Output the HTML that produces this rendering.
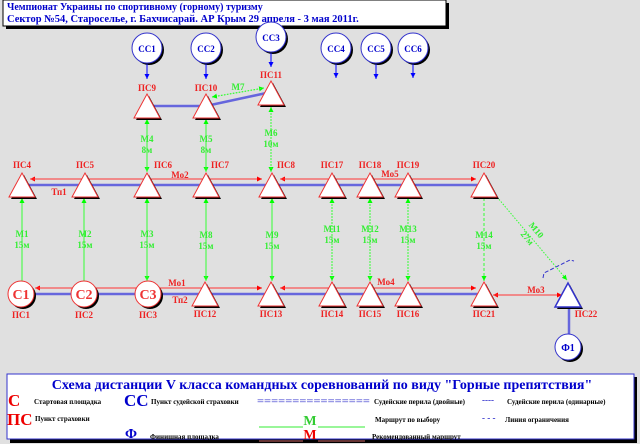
<!DOCTYPE html>
<html><head><meta charset="utf-8"><style>
body{margin:0;background:#e0e0e0}
svg{display:block}
text{font-family:"Liberation Serif",serif;font-weight:bold}
</style></head><body>
<svg width="640" height="444" viewBox="0 0 640 444" xmlns="http://www.w3.org/2000/svg">
<defs>
<marker id="ar" viewBox="0 0 10 10" refX="10" refY="5" markerWidth="5" markerHeight="5" orient="auto"><path d="M0,0L10,5L0,10z" fill="#f00"/></marker>
<marker id="ag" viewBox="0 0 10 10" refX="10" refY="5" markerWidth="5" markerHeight="5" orient="auto"><path d="M0,0L10,5L0,10z" fill="#0f0"/></marker>
<marker id="ab" viewBox="0 0 10 10" refX="10" refY="5" markerWidth="5" markerHeight="5" orient="auto"><path d="M0,0L10,5L0,10z" fill="#00f"/></marker>
<g id="tri"><path d="M2,2L15,26L-11,26z" fill="#000"/><path d="M0,0L13,24L-13,24z" fill="#fff" stroke="#e33" stroke-width="1"/></g>
<g id="trib"><path d="M2,2L15,26L-11,26z" fill="#000"/><path d="M0,0L13,24L-13,24z" fill="#fff" stroke="#33c" stroke-width="1.5"/></g>
</defs>
<rect width="640" height="444" fill="#e0e0e0"/>
<rect x="6" y="3" width="443" height="26" fill="#000"/>
<rect x="3" y="0" width="443" height="26" fill="#fff" stroke="#000"/>
<text x="7" y="10" font-size="10" fill="#00c">Чемпионат Украины по спортивному (горному) туризму</text>
<text x="7" y="22" font-size="10.5" fill="#00c">Сектор №54, Староселье, г. Бахчисарай. АР Крым 29 апреля - 3 мая 2011г.</text>
<g font-size="9" fill="#00c" text-anchor="middle">
<g><circle cx="149" cy="50" r="15" fill="#000"/><circle cx="147" cy="48" r="15" fill="#fff" stroke="#33c"/><text x="147" y="52">СС1</text></g>
<g><circle cx="208" cy="50" r="15" fill="#000"/><circle cx="206" cy="48" r="15" fill="#fff" stroke="#33c"/><text x="206" y="52">СС2</text></g>
<g><circle cx="273" cy="39" r="15" fill="#000"/><circle cx="271" cy="37" r="15" fill="#fff" stroke="#33c"/><text x="271" y="41">СС3</text></g>
<g><circle cx="338" cy="50" r="15" fill="#000"/><circle cx="336" cy="48" r="15" fill="#fff" stroke="#33c"/><text x="336" y="52">СС4</text></g>
<g><circle cx="378" cy="50" r="15" fill="#000"/><circle cx="376" cy="48" r="15" fill="#fff" stroke="#33c"/><text x="376" y="52">СС5</text></g>
<g><circle cx="415" cy="50" r="15" fill="#000"/><circle cx="413" cy="48" r="15" fill="#fff" stroke="#33c"/><text x="413" y="52">СС6</text></g>
</g>
<g stroke="#00f" stroke-width="1">
<line x1="147" y1="64" x2="147" y2="79" marker-end="url(#ab)"/>
<line x1="206" y1="64" x2="206" y2="79" marker-end="url(#ab)"/>
<line x1="271" y1="53" x2="271" y2="67" marker-end="url(#ab)"/>
<line x1="336" y1="64" x2="336" y2="78" marker-end="url(#ab)"/>
<line x1="376" y1="64" x2="376" y2="79" marker-end="url(#ab)"/>
<line x1="413" y1="64" x2="413" y2="78" marker-end="url(#ab)"/>
</g>
<g stroke="#66d" stroke-width="2.5">
<line x1="147" y1="106" x2="206" y2="106"/>
<line x1="206" y1="106" x2="271" y2="92"/>
<line x1="22" y1="185" x2="484" y2="185"/>
<line x1="22" y1="294" x2="484" y2="294"/>
<line x1="569" y1="300" x2="569" y2="336"/>
</g>
<g stroke="#f33" stroke-width="1">
<line x1="262" y1="179" x2="30" y2="179" marker-end="url(#ar)"/>
<line x1="30" y1="179" x2="262" y2="179" marker-end="url(#ar)"/>
<line x1="476" y1="179" x2="280" y2="179" marker-end="url(#ar)"/>
<line x1="280" y1="179" x2="476" y2="179" marker-end="url(#ar)"/>
<line x1="262" y1="288" x2="35" y2="288" marker-end="url(#ar)"/>
<line x1="35" y1="288" x2="262" y2="288" marker-end="url(#ar)"/>
<line x1="476" y1="288" x2="280" y2="288" marker-end="url(#ar)"/>
<line x1="280" y1="288" x2="476" y2="288" marker-end="url(#ar)"/>
<line x1="562" y1="295" x2="493" y2="295" marker-end="url(#ar)"/>
<line x1="493" y1="295" x2="562" y2="295" marker-end="url(#ar)"/>
</g>
<g stroke="#3f3" stroke-width="1">
<line x1="22" y1="281" x2="22" y2="198" marker-end="url(#ag)"/>
<line x1="84" y1="281" x2="84" y2="198" marker-end="url(#ag)"/>
<line x1="147" y1="198" x2="147" y2="281" marker-end="url(#ag)"/>
<line x1="147" y1="281" x2="147" y2="198" marker-end="url(#ag)"/>
<line x1="206" y1="198" x2="206" y2="281" marker-end="url(#ag)"/>
<line x1="206" y1="281" x2="206" y2="198" marker-end="url(#ag)"/>
<line x1="272" y1="198" x2="272" y2="281" marker-end="url(#ag)"/>
<line x1="272" y1="281" x2="272" y2="198" marker-end="url(#ag)"/>
<line x1="147" y1="119" x2="147" y2="172" marker-end="url(#ag)"/>
<line x1="147" y1="172" x2="147" y2="119" marker-end="url(#ag)"/>
<line x1="206" y1="119" x2="206" y2="172" marker-end="url(#ag)"/>
<line x1="206" y1="172" x2="206" y2="119" marker-end="url(#ag)"/>
</g>
<g stroke="#3f3" stroke-width="1" stroke-dasharray="1.5,1.5">
<line x1="271" y1="107" x2="271" y2="172" marker-end="url(#ag)"/>
<line x1="271" y1="172" x2="271" y2="107" marker-end="url(#ag)"/>
<line x1="212" y1="97" x2="264" y2="88" marker-end="url(#ag)"/>
<line x1="264" y1="88" x2="212" y2="97" marker-end="url(#ag)"/>
<line x1="332" y1="198" x2="332" y2="281" marker-end="url(#ag)"/>
<line x1="332" y1="281" x2="332" y2="198" marker-end="url(#ag)"/>
<line x1="370" y1="198" x2="370" y2="281" marker-end="url(#ag)"/>
<line x1="370" y1="281" x2="370" y2="198" marker-end="url(#ag)"/>
<line x1="408" y1="198" x2="408" y2="281" marker-end="url(#ag)"/>
<line x1="408" y1="281" x2="408" y2="198" marker-end="url(#ag)"/>
<line x1="484" y1="198" x2="484" y2="281" marker-end="url(#ag)" stroke-dasharray="3,2"/>
<line x1="497" y1="197" x2="567" y2="280" marker-end="url(#ag)"/>
</g>
<path d="M543,278 L544,273 L570,260 L574,261" fill="none" stroke="#33c" stroke-dasharray="4,2"/>
<use href="#tri" x="147" y="94"/><use href="#tri" x="206" y="94"/><use href="#tri" x="271" y="81"/>
<use href="#tri" x="22" y="173"/><use href="#tri" x="85" y="173"/><use href="#tri" x="147" y="173"/><use href="#tri" x="206" y="173"/><use href="#tri" x="272" y="173"/><use href="#tri" x="332" y="173"/><use href="#tri" x="370" y="173"/><use href="#tri" x="408" y="173"/><use href="#tri" x="484" y="173"/>
<use href="#tri" x="205" y="282"/><use href="#tri" x="271" y="282"/><use href="#tri" x="332" y="282"/><use href="#tri" x="370" y="282"/><use href="#tri" x="408" y="282"/><use href="#tri" x="484" y="282"/>
<use href="#trib" x="568" y="283"/>
<g font-size="14" fill="#e33" text-anchor="middle">
<circle cx="23" cy="296" r="13" fill="#000"/><circle cx="21" cy="294" r="13" fill="#fff" stroke="#e33"/><text x="21" y="299">С1</text>
<circle cx="86" cy="296" r="13" fill="#000"/><circle cx="84" cy="294" r="13" fill="#fff" stroke="#e33"/><text x="84" y="299">С2</text>
<circle cx="150" cy="296" r="13" fill="#000"/><circle cx="148" cy="294" r="13" fill="#fff" stroke="#e33"/><text x="148" y="299">С3</text>
</g>
<circle cx="570" cy="349" r="13" fill="#000"/><circle cx="568" cy="347" r="13" fill="#fff" stroke="#33c"/><text x="568" y="351" font-size="10" fill="#00c" text-anchor="middle">Ф1</text>
<g font-size="9" fill="#e22" text-anchor="middle">
<text x="147" y="91">ПС9</text><text x="206" y="91">ПС10</text><text x="271" y="78">ПС11</text>
<text x="22" y="168">ПС4</text><text x="85" y="168">ПС5</text><text x="163" y="168">ПС6</text><text x="220" y="168">ПС7</text><text x="286" y="168">ПС8</text><text x="332" y="168">ПС17</text><text x="370" y="168">ПС18</text><text x="408" y="168">ПС19</text><text x="484" y="168">ПС20</text>
<text x="21" y="318">ПС1</text><text x="84" y="318">ПС2</text><text x="148" y="318">ПС3</text><text x="205" y="317">ПС12</text><text x="271" y="317">ПС13</text><text x="332" y="317">ПС14</text><text x="370" y="317">ПС15</text><text x="408" y="317">ПС16</text><text x="484" y="317">ПС21</text><text x="586" y="317">ПС22</text>
<text x="180" y="178">Мо2</text><text x="59" y="195">Тп1</text><text x="390" y="177">Мо5</text>
<text x="177" y="286">Мо1</text><text x="180" y="303">Тп2</text><text x="386" y="285">Мо4</text><text x="536" y="293">Мо3</text>
</g>
<g font-size="9" fill="#3e3" text-anchor="middle">
<text x="147" y="142">М4</text><text x="147" y="153">8м</text>
<text x="206" y="142">М5</text><text x="206" y="153">8м</text>
<text x="271" y="136">М6</text><text x="271" y="147">10м</text>
<text x="238" y="90">М7</text>
<text x="22" y="237">М1</text><text x="22" y="248">15м</text>
<text x="85" y="237">М2</text><text x="85" y="248">15м</text>
<text x="147" y="237">М3</text><text x="147" y="248">15м</text>
<text x="206" y="238">М8</text><text x="206" y="249">15м</text>
<text x="272" y="238">М9</text><text x="272" y="249">15м</text>
<text x="332" y="232">М11</text><text x="332" y="243">15м</text>
<text x="370" y="232">М12</text><text x="370" y="243">15м</text>
<text x="408" y="232">М13</text><text x="408" y="243">15м</text>
<text x="484" y="238">М14</text><text x="484" y="249">15м</text>
<text transform="translate(534,232) rotate(50)">М10</text>
<text transform="translate(525,240) rotate(50)">27м</text>
</g>
<rect x="10" y="377" width="627" height="66" fill="#000"/>
<rect x="7" y="374" width="627" height="65" fill="#fff" stroke="#33c"/>
<text x="322" y="389" font-size="14" fill="#00c" text-anchor="middle">Схема дистанции V класса командных соревнований по виду "Горные препятствия"</text>
<text x="8" y="406" font-size="17" fill="#e00">С</text>
<text x="34" y="404" font-size="7" fill="#000">Стартовая площадка</text>
<text x="124" y="406" font-size="17" fill="#00c">СС</text>
<text x="151" y="404" font-size="7" fill="#000">Пункт судейской страховки</text>
<text x="257" y="404" font-size="9" fill="#33c" textLength="113" lengthAdjust="spacingAndGlyphs">================</text>
<text x="374" y="404" font-size="7" fill="#000">Судейские перила (двойные)</text>
<text x="482" y="403" font-size="9" fill="#33c">----</text>
<text x="507" y="404" font-size="7" fill="#000">Судейские перила (одинарные)</text>
<text x="7" y="425" font-size="17" fill="#e00">ПС</text>
<text x="35" y="421" font-size="7" fill="#000">Пункт страховки</text>
<line x1="259" y1="427" x2="303" y2="427" stroke="#3e3"/>
<line x1="318" y1="427" x2="365" y2="427" stroke="#3e3"/>
<text x="310" y="425" font-size="14" fill="#3c3" text-anchor="middle">М</text>
<text x="375" y="422" font-size="7" fill="#000">Маршрут по выбору</text>
<text x="482" y="421" font-size="9" fill="#33c">- - -</text>
<text x="505" y="422" font-size="7" fill="#000">Линия ограничения</text>
<text x="125" y="438" font-size="14" fill="#00c">Ф</text>
<text x="150" y="439" font-size="7" fill="#000">Финишная площадка</text>
<line x1="259" y1="441" x2="303" y2="441" stroke="#c66"/>
<line x1="318" y1="441" x2="365" y2="441" stroke="#c66"/>
<text x="310" y="439" font-size="14" fill="#e00" text-anchor="middle">М</text>
<text x="372" y="439" font-size="7" fill="#000">Рекомендованный маршрут</text>
</svg>
</body></html>
